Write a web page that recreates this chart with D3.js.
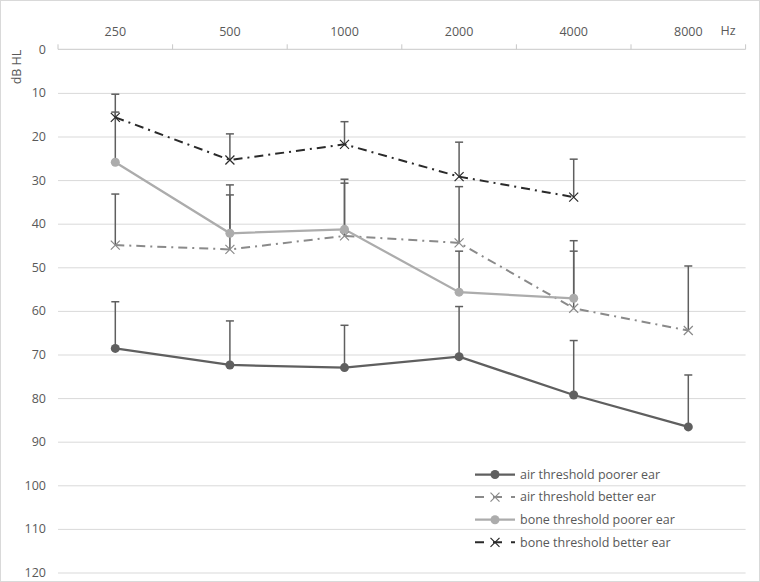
<!DOCTYPE html>
<html><head><meta charset="utf-8">
<script src="https://cdn.jsdelivr.net/npm/d3@7"></script>
<style>body{margin:0;background:#fff}svg{display:block}text{font-family:"Open Sans","Noto Sans",sans-serif}</style>
</head><body>
<svg id="c" width="760" height="582"></svg>
<script>
const categories = ["250","500","1000","2000","4000","8000"];
const yTicks = [0,10,20,30,40,50,60,70,80,90,100,110,120];
const airPoorer = [68.6,72.4,73.0,70.5,79.3,86.6];
const airPoorerErrTop = [57.9,62.3,63.3,59.0,66.8,74.7];
const airBetter = [44.9,45.9,42.8,44.4,59.4,64.5];
const airBetterErrTop = [33.2,33.4,30.7,31.5,43.9,49.7];
const bonePoorer = [25.9,42.2,41.3,55.7,57.1,null];
const bonePoorerErrTop = [14.4,31.1,29.8,46.3,46.3,null];
const boneBetter = [15.6,25.4,21.8,29.2,33.9,null];
const boneBetterErrTop = [10.3,19.4,16.6,21.3,25.2,null];
const seriesNames = ["air threshold poorer ear","air threshold better ear","bone threshold poorer ear","bone threshold better ear"];

const series = [
  {name:seriesNames[0], vals:airPoorer, err:airPoorerErrTop, color:"#5f5f5f", dash:null, marker:"circle", w:2.25},
  {name:seriesNames[1], vals:airBetter, err:airBetterErrTop, color:"#8a8a8a", dash:"9,5,2,5", marker:"x", w:2},
  {name:seriesNames[2], vals:bonePoorer, err:bonePoorerErrTop, color:"#acacac", dash:null, marker:"circle", w:2.25},
  {name:seriesNames[3], vals:boneBetter, err:boneBetterErrTop, color:"#2a2a2a", dash:"9,5,2,5", marker:"x", w:2}
];

const svg = d3.select("#c");
svg.append("rect").attr("x",0.5).attr("y",0.5).attr("width",759).attr("height",581)
  .attr("fill","#fff").attr("stroke","#d9d9d9");

const x = d3.scaleBand().domain(categories).range([58,745.6]);
const y = d3.scaleLinear().domain([0,120]).range([49.3,572.5]);

// gridlines
svg.append("g").attr("transform","translate(58,0)")
  .call(d3.axisLeft(y).tickValues(yTicks.slice(1)).tickSize(-(745.6-58)).tickFormat(""))
  .call(g=>g.select(".domain").remove())
  .call(g=>g.selectAll("line").attr("stroke","#d9d9d9").attr("stroke-width",1));

// y labels
svg.append("g").attr("transform","translate(46,0)")
  .call(d3.axisLeft(y).tickValues(yTicks).tickSize(0).tickPadding(0))
  .call(g=>g.select(".domain").remove())
  .call(g=>g.selectAll("text").attr("fill","#595959").style("font-size","12.5px"));

// top axis line and boundary ticks
const topAxis = svg.append("g");
topAxis.append("line").attr("x1",x.range()[0]).attr("x2",x.range()[1]).attr("y1",y(0)).attr("y2",y(0))
  .attr("stroke","#c8c8c8").attr("stroke-width",1);
const bounds = categories.map(c=>x(c)).concat([x.range()[1]]);
topAxis.selectAll("line.tk").data(bounds).join("line").attr("class","tk")
  .attr("x1",d=>d).attr("x2",d=>d).attr("y1",y(0)).attr("y2",y(0)-5).attr("stroke","#c8c8c8");
svg.append("g").attr("transform","translate(0,"+(y(0)-13)+")")
  .call(d3.axisTop(x).tickSize(0).tickPadding(0))
  .call(g=>g.select(".domain").remove())
  .call(g=>g.selectAll("text").attr("fill","#595959").style("font-size","12.5px"));
svg.append("text").attr("x",728).attr("y",35).attr("text-anchor","middle").attr("fill","#595959")
  .style("font-size","12.5px").text("Hz");
svg.append("text").attr("transform","translate(21,67) rotate(-90)").attr("text-anchor","middle")
  .attr("fill","#595959").style("font-size","12.5px").text("dB HL");

const cx = c=>x(c)+x.bandwidth()/2;

// lines
series.forEach(s=>{
  const pts = categories.map((c,i)=>({c,v:s.vals[i]})).filter(d=>d.v!=null);
  svg.append("path").datum(pts)
    .attr("d",d3.line().x(d=>cx(d.c)).y(d=>y(d.v)))
    .attr("fill","none").attr("stroke",s.color).attr("stroke-width",s.w)
    .attr("stroke-dasharray",s.dash);
});

// error bars
series.forEach(s=>{
  const pts = categories.map((c,i)=>({c,v:s.vals[i],e:s.err[i]})).filter(d=>d.v!=null);
  const g = svg.append("g").attr("stroke","#5f5f5f").attr("stroke-width",1.5);
  g.selectAll("line.v").data(pts).join("line").attr("class","v")
    .attr("x1",d=>cx(d.c)).attr("x2",d=>cx(d.c)).attr("y1",d=>y(d.v)).attr("y2",d=>y(d.e));
  g.selectAll("line.cap").data(pts).join("line").attr("class","cap")
    .attr("x1",d=>cx(d.c)-4).attr("x2",d=>cx(d.c)+4).attr("y1",d=>y(d.e)).attr("y2",d=>y(d.e));
});

// markers
function drawMarker(g, px, py, s){
  if(s.marker==="circle"){
    g.append("circle").attr("cx",px).attr("cy",py).attr("r",4.5).attr("fill",s.color);
  } else {
    const r=4.5;
    g.append("path").attr("d",`M${px-r},${py-r}L${px+r},${py+r}M${px-r},${py+r}L${px+r},${py-r}`)
      .attr("stroke",s.color).attr("stroke-width",1.2).attr("fill","none");
  }
}
series.forEach(s=>{
  const g = svg.append("g");
  categories.forEach((c,i)=>{ if(s.vals[i]!=null) drawMarker(g,cx(c),y(s.vals[i]),s); });
});

// legend
const lg = svg.append("g");
series.forEach((s,i)=>{
  const ly = 474.5 + i*22.6;
  lg.append("line").attr("x1",475).attr("x2",515).attr("y1",ly).attr("y2",ly)
    .attr("stroke",s.color).attr("stroke-width",s.w).attr("stroke-dasharray",s.dash? "9,9":null);
  drawMarker(lg,495,ly,s);
  lg.append("text").attr("x",520).attr("y",ly).attr("dy","0.35em").attr("fill","#595959")
    .style("font-size","12.5px").text(s.name);
});
</script>
</body></html>
